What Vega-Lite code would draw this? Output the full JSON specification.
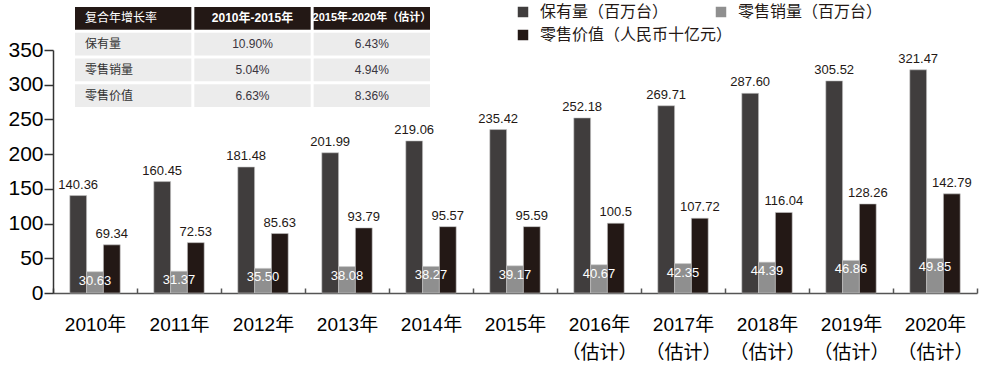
{
  "$schema": "https://vega.github.io/schema/vega-lite/v6.json",
  "width": 924,
  "height": 243,
  "autosize": {"type": "none"},
  "padding": {"left": 53, "top": 50, "right": 9, "bottom": 77},
  "background": "white",
  "config": {
    "view": {"stroke": null},
    "font": "Liberation Sans, Noto Sans CJK SC, sans-serif",
    "legend": {
      "orient": "none",
      "direction": "horizontal",
      "legendX": 462,
      "legendY": -46,
      "columns": 2,
      "gridAlign": "none",
      "columnPadding": -20,
      "rowPadding": 7,
      "symbolType": "square",
      "symbolSize": 110,
      "symbolStrokeWidth": 0,
      "labelFontSize": 16,
      "labelLimit": 400,
      "labelColor": "#231815",
      "labelOffset": 9,
      "labelFont": "Liberation Sans, Noto Sans CJK SC, sans-serif"
    }
  },
  "datasets": {
    "bars": [
      {"year": "2010年", "series": "保有量（百万台）", "value": 140.36, "label": "140.36"},
      {"year": "2010年", "series": "零售销量（百万台）", "value": 30.63, "label": "30.63"},
      {"year": "2010年", "series": "零售价值（人民币十亿元）", "value": 69.34, "label": "69.34"},
      {"year": "2011年", "series": "保有量（百万台）", "value": 160.45, "label": "160.45"},
      {"year": "2011年", "series": "零售销量（百万台）", "value": 31.37, "label": "31.37"},
      {"year": "2011年", "series": "零售价值（人民币十亿元）", "value": 72.53, "label": "72.53"},
      {"year": "2012年", "series": "保有量（百万台）", "value": 181.48, "label": "181.48"},
      {"year": "2012年", "series": "零售销量（百万台）", "value": 35.50, "label": "35.50"},
      {"year": "2012年", "series": "零售价值（人民币十亿元）", "value": 85.63, "label": "85.63"},
      {"year": "2013年", "series": "保有量（百万台）", "value": 201.99, "label": "201.99"},
      {"year": "2013年", "series": "零售销量（百万台）", "value": 38.08, "label": "38.08"},
      {"year": "2013年", "series": "零售价值（人民币十亿元）", "value": 93.79, "label": "93.79"},
      {"year": "2014年", "series": "保有量（百万台）", "value": 219.06, "label": "219.06"},
      {"year": "2014年", "series": "零售销量（百万台）", "value": 38.27, "label": "38.27"},
      {"year": "2014年", "series": "零售价值（人民币十亿元）", "value": 95.57, "label": "95.57"},
      {"year": "2015年", "series": "保有量（百万台）", "value": 235.42, "label": "235.42"},
      {"year": "2015年", "series": "零售销量（百万台）", "value": 39.17, "label": "39.17"},
      {"year": "2015年", "series": "零售价值（人民币十亿元）", "value": 95.59, "label": "95.59"},
      {"year": "2016年（估计）", "series": "保有量（百万台）", "value": 252.18, "label": "252.18"},
      {"year": "2016年（估计）", "series": "零售销量（百万台）", "value": 40.67, "label": "40.67"},
      {"year": "2016年（估计）", "series": "零售价值（人民币十亿元）", "value": 100.5, "label": "100.5"},
      {"year": "2017年（估计）", "series": "保有量（百万台）", "value": 269.71, "label": "269.71"},
      {"year": "2017年（估计）", "series": "零售销量（百万台）", "value": 42.35, "label": "42.35"},
      {"year": "2017年（估计）", "series": "零售价值（人民币十亿元）", "value": 107.72, "label": "107.72"},
      {"year": "2018年（估计）", "series": "保有量（百万台）", "value": 287.60, "label": "287.60"},
      {"year": "2018年（估计）", "series": "零售销量（百万台）", "value": 44.39, "label": "44.39"},
      {"year": "2018年（估计）", "series": "零售价值（人民币十亿元）", "value": 116.04, "label": "116.04"},
      {"year": "2019年（估计）", "series": "保有量（百万台）", "value": 305.52, "label": "305.52"},
      {"year": "2019年（估计）", "series": "零售销量（百万台）", "value": 46.86, "label": "46.86"},
      {"year": "2019年（估计）", "series": "零售价值（人民币十亿元）", "value": 128.26, "label": "128.26"},
      {"year": "2020年（估计）", "series": "保有量（百万台）", "value": 321.47, "label": "321.47"},
      {"year": "2020年（估计）", "series": "零售销量（百万台）", "value": 49.85, "label": "49.85"},
      {"year": "2020年（估计）", "series": "零售价值（人民币十亿元）", "value": 142.79, "label": "142.79"}
    ],
    "table": [
      {"row": "复合年增长率", "col": "c0", "text": "复合年增长率"},
      {"row": "复合年增长率", "col": "c1", "text": "2010年-2015年"},
      {"row": "复合年增长率", "col": "c2", "text": "2015年-2020年（估计）"},
      {"row": "保有量", "col": "c0", "text": "保有量"},
      {"row": "保有量", "col": "c1", "text": "10.90%"},
      {"row": "保有量", "col": "c2", "text": "6.43%"},
      {"row": "零售销量", "col": "c0", "text": "零售销量"},
      {"row": "零售销量", "col": "c1", "text": "5.04%"},
      {"row": "零售销量", "col": "c2", "text": "4.94%"},
      {"row": "零售价值", "col": "c0", "text": "零售价值"},
      {"row": "零售价值", "col": "c1", "text": "6.63%"},
      {"row": "零售价值", "col": "c2", "text": "8.36%"}
    ]
  },
  "layer": [
    {
      "data": {"name": "bars"},
      "encoding": {
        "x": {
          "field": "year",
          "type": "nominal",
          "sort": null,
          "scale": {"paddingInner": 0, "paddingOuter": 0},
          "axis": {
            "title": null,
            "domainColor": "#555",
            "domainWidth": 1.5,
            "tickColor": "#555",
            "tickWidth": 1.5,
            "tickSize": -5,
            "tickBand": "extent",
            "labelAngle": 0,
            "labelFontSize": 19,
            "labelColor": "#000",
            "labelPadding": 27,
            "labelLineHeight": 28,
            "labelExpr": "length(datum.label) > 5 ? [substring(datum.label, 0, 5), substring(datum.label, 5)] : datum.label"
          }
        },
        "xOffset": {
          "field": "series",
          "type": "nominal",
          "sort": ["保有量（百万台）", "零售销量（百万台）", "零售价值（人民币十亿元）"],
          "scale": {"paddingInner": 0, "paddingOuter": 1.5}
        },
        "y": {
          "field": "value",
          "type": "quantitative",
          "scale": {"domain": [0, 350], "nice": false},
          "axis": {
            "title": null,
            "grid": false,
            "values": [0, 50, 100, 150, 200, 250, 300, 350],
            "domainColor": "#333",
            "domainWidth": 1.5,
            "tickColor": "#333",
            "tickWidth": 1.5,
            "tickSize": 9,
            "labelFontSize": 21,
            "labelColor": "#000",
            "labelPadding": 1
          }
        }
      },
      "layer": [
        {
          "mark": {"type": "bar", "stroke": "#c8c8c8", "strokeWidth": 0.6},
          "encoding": {
            "color": {
              "field": "series",
              "type": "nominal",
              "sort": ["保有量（百万台）", "零售销量（百万台）", "零售价值（人民币十亿元）"],
              "scale": {
                "domain": ["保有量（百万台）", "零售销量（百万台）", "零售价值（人民币十亿元）"],
                "range": ["#403d3d", "#8f8f8f", "#231815"]
              },
              "legend": {"title": null}
            }
          }
        },
        {
          "transform": [{"filter": "datum.series === '保有量（百万台）'"}],
          "mark": {"type": "text", "baseline": "alphabetic", "dy": -7, "fontSize": 13, "color": "#231815"},
          "encoding": {"text": {"field": "label"}}
        },
        {
          "transform": [{"filter": "datum.series === '零售价值（人民币十亿元）'"}],
          "mark": {"type": "text", "baseline": "alphabetic", "dy": -7, "fontSize": 13, "color": "#231815"},
          "encoding": {"text": {"field": "label"}}
        },
        {
          "transform": [{"filter": "datum.series === '零售销量（百万台）'"}],
          "mark": {"type": "text", "baseline": "alphabetic", "dy": 13, "fontSize": 13, "color": "#ffffff"},
          "encoding": {"text": {"field": "label"}}
        }
      ]
    },
    {
      "data": {"name": "table"},
      "encoding": {
        "x": {
          "field": "col",
          "type": "nominal",
          "sort": ["c0", "c1", "c2"],
          "scale": {"range": [22, 377], "paddingInner": 0.025, "paddingOuter": 0},
          "axis": null
        },
        "y": {
          "field": "row",
          "type": "nominal",
          "sort": ["复合年增长率", "保有量", "零售销量", "零售价值"],
          "scale": {"range": [-43, 57], "paddingInner": 0.12, "paddingOuter": 0},
          "axis": null
        }
      },
      "layer": [
        {
          "mark": {"type": "rect"},
          "encoding": {
            "fill": {
              "condition": {"test": "datum.row === '复合年增长率'", "value": "#231815"},
              "value": "#ececec"
            }
          }
        },
        {
          "transform": [{"filter": "datum.col === 'c0'"}],
          "mark": {"type": "text", "align": "left", "baseline": "middle", "dx": 10, "fontSize": 12},
          "encoding": {
            "x": {"field": "col", "type": "nominal", "sort": ["c0", "c1", "c2"], "bandPosition": 0},
            "text": {"field": "text"},
            "fill": {
              "condition": {"test": "datum.row === '复合年增长率'", "value": "#ffffff"},
              "value": "#333333"
            }
          }
        },
        {
          "transform": [{"filter": "datum.col !== 'c0' && datum.row !== '复合年增长率'"}],
          "mark": {"type": "text", "align": "center", "baseline": "middle", "fontSize": 12, "color": "#3a3540"},
          "encoding": {"text": {"field": "text"}}
        },
        {
          "transform": [{"filter": "datum.col !== 'c0' && datum.row === '复合年增长率'"}],
          "mark": {"type": "text", "align": "center", "baseline": "middle", "fontWeight": "bold", "color": "#ffffff"},
          "encoding": {
            "text": {"field": "text"},
            "size": {
              "condition": {"test": "datum.col === 'c1'", "value": 12},
              "value": 11
            }
          }
        }
      ]
    }
  ],
  "resolve": {"scale": {"x": "independent", "y": "independent"}}
}
